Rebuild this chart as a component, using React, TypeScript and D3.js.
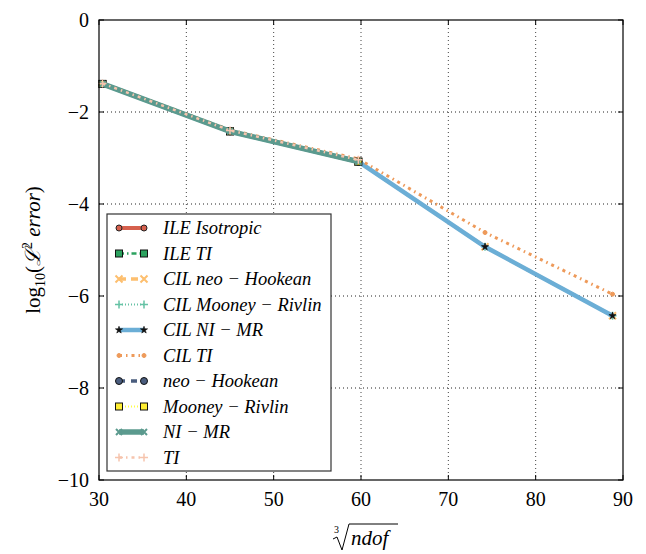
import React from "react";
import * as d3 from "d3";

const xValues = [30.4, 45.0, 59.7, 74.2, 88.8];
const xTicks = [30, 40, 50, 60, 70, 80, 90];
const yTicks = [0, -2, -4, -6, -8, -10];

const seriesNames = [
  "ILE Isotropic",
  "ILE TI",
  "CIL neo − Hookean",
  "CIL Mooney − Rivlin",
  "CIL NI − MR",
  "CIL TI",
  "neo − Hookean",
  "Mooney − Rivlin",
  "NI − MR",
  "TI",
];

const ileIsotropic = [-1.39, -2.42, -3.08];
const ileTI = [-1.39, -2.42, -3.08];
const cilNeoHookean = [-1.39, -2.42, -3.08, -4.93, -6.43];
const cilMooneyRivlin = [-1.39, -2.42, -3.08, -4.93, -6.43];
const cilNIMR = [-1.39, -2.42, -3.08, -4.93, -6.43];
const cilTI = [-1.37, -2.39, -3.02, -4.62, -5.96];
const neoHookean = [-1.39, -2.42, -3.08];
const mooneyRivlin = [-1.39, -2.42, -3.08];
const niMR = [-1.39, -2.42, -3.08];
const ti = [-1.38, -2.40, -3.04];

const seriesValues = [
  ileIsotropic, ileTI, cilNeoHookean, cilMooneyRivlin, cilNIMR,
  cilTI, neoHookean, mooneyRivlin, niMR, ti,
];

type Style = { color: string; width: number; dash: string; marker: string; mfill: string; mstroke: string; msize: number };
const styles: Style[] = [
  { color: "#d6604d", width: 4, dash: "", marker: "circle", mfill: "#d6604d", mstroke: "#222", msize: 6 },
  { color: "#2ca25f", width: 2.5, dash: "5,3,1.5,3", marker: "square", mfill: "#2ca25f", mstroke: "#111", msize: 7 },
  { color: "#fdbf6f", width: 3.5, dash: "7,5", marker: "x", mfill: "none", mstroke: "#fdbf6f", msize: 7 },
  { color: "#66c2a5", width: 2, dash: "1,2", marker: "plus", mfill: "none", mstroke: "#66c2a5", msize: 8 },
  { color: "#6baed6", width: 4.5, dash: "", marker: "star", mfill: "#111", mstroke: "#111", msize: 6 },
  { color: "#ee9a5a", width: 3, dash: "3,4,1.5,4", marker: "circle", mfill: "#ee9a5a", mstroke: "#ee9a5a", msize: 4 },
  { color: "#4a5d7e", width: 3.5, dash: "6,6", marker: "circle", mfill: "#4a5d7e", mstroke: "#111", msize: 7 },
  { color: "#ffff44", width: 2, dash: "1,2", marker: "square", mfill: "#ffee33", mstroke: "#111", msize: 7 },
  { color: "#5b9a8e", width: 5.5, dash: "", marker: "x", mfill: "none", mstroke: "#5b9a8e", msize: 6 },
  { color: "#f6c4ad", width: 2.5, dash: "3,4,1.5,4", marker: "plus", mfill: "none", mstroke: "#f6c4ad", msize: 8 },
];

function Marker({ x, y, s }: { x: number; y: number; s: Style }) {
  const r = s.msize / 2;
  if (s.marker === "circle")
    return <circle cx={x} cy={y} r={r} fill={s.mfill} stroke={s.mstroke} strokeWidth={1} />;
  if (s.marker === "square")
    return <rect x={x - r} y={y - r} width={2 * r} height={2 * r} fill={s.mfill} stroke={s.mstroke} strokeWidth={1} />;
  if (s.marker === "x")
    return <path d={`M${x - r},${y - r}L${x + r},${y + r}M${x - r},${y + r}L${x + r},${y - r}`} stroke={s.mstroke} strokeWidth={2} />;
  if (s.marker === "plus")
    return <path d={`M${x - r},${y}L${x + r},${y}M${x},${y - r}L${x},${y + r}`} stroke={s.mstroke} strokeWidth={1.5} />;
  const star = d3.symbol().type(d3.symbolStar).size(16)();
  return <path d={star || ""} transform={`translate(${x},${y})`} fill={s.mfill} stroke={s.mstroke} strokeWidth={0.6} />;
}

export default function App() {
  const W = 646, H = 554;
  const left = 99, right = 623, top = 20, bottom = 480;
  const x = d3.scaleLinear().domain([30, 90]).range([left, right]);
  const y = d3.scaleLinear().domain([-10, 0]).range([bottom, top]);
  const line = d3.line<[number, number]>().x((d) => x(d[0])).y((d) => y(d[1]));
  const font = "'Liberation Serif', 'DejaVu Serif', serif";

  const legX = 107, legY = 214, legW = 224, legH = 257;
  const rowH = 25.5;

  return (
    <svg width={W} height={H} style={{ position: "absolute", left: 0, top: 0 }} fontFamily={font}>
      <rect x={0} y={0} width={W} height={H} fill="white" />
      {/* grid */}
      {xTicks.slice(1, -1).map((t) => (
        <line key={"gx" + t} x1={x(t)} x2={x(t)} y1={top} y2={bottom} stroke="#444" strokeWidth={1} strokeDasharray="1,3" />
      ))}
      {yTicks.slice(1, -1).map((t) => (
        <line key={"gy" + t} x1={left} x2={right} y1={y(t)} y2={y(t)} stroke="#222" strokeWidth={1} strokeDasharray="1,3" />
      ))}
      {/* series */}
      {seriesValues.map((vals, i) => {
        const pts: [number, number][] = vals.map((v, j) => [xValues[j], v]);
        const s = styles[i];
        return (
          <g key={"s" + i}>
            <path d={line(pts) || ""} fill="none" stroke={s.color} strokeWidth={s.width} strokeDasharray={s.dash || undefined} />
            {pts.map((p, j) => (
              <Marker key={j} x={x(p[0])} y={y(p[1])} s={s} />
            ))}
          </g>
        );
      })}
      {/* frame */}
      <rect x={left} y={top} width={right - left} height={bottom - top} fill="none" stroke="#000" strokeWidth={1.2} />
      {/* ticks */}
      {xTicks.map((t) => (
        <g key={"tx" + t}>
          <line x1={x(t)} x2={x(t)} y1={bottom} y2={bottom - 5} stroke="#000" />
          <line x1={x(t)} x2={x(t)} y1={top} y2={top + 5} stroke="#000" />
          <text x={x(t)} y={bottom + 26} fontSize={20} textAnchor="middle">{t}</text>
        </g>
      ))}
      {yTicks.map((t) => (
        <g key={"ty" + t}>
          <line x1={left} x2={left + 5} y1={y(t)} y2={y(t)} stroke="#000" />
          <line x1={right} x2={right - 5} y1={y(t)} y2={y(t)} stroke="#000" />
          <text x={left - 10} y={y(t) + 7} fontSize={20} textAnchor="end">{t === 0 ? "0" : "\u2212" + Math.abs(t)}</text>
        </g>
      ))}
      {/* legend */}
      <rect x={legX} y={legY} width={legW} height={legH} fill="white" stroke="#333" strokeWidth={1.2} />
      {seriesNames.map((name, i) => {
        const s = styles[i];
        const yy = legY + 14 + i * rowH;
        const x1 = legX + 12, x2 = legX + 37;
        return (
          <g key={"l" + i}>
            <line x1={x1} x2={x2} y1={yy} y2={yy} stroke={s.color} strokeWidth={s.width} strokeDasharray={s.dash || undefined} />
            <Marker x={x1} y={yy} s={s} />
            <Marker x={x2} y={yy} s={s} />
            <text x={legX + 56} y={yy + 6} fontSize={18.5} fontStyle="italic">{name}</text>
          </g>
        );
      })}
      {/* y label */}
      <text transform={`translate(40,${(top + bottom) / 2}) rotate(-90)`} textAnchor="middle" fontSize={21}>
        <tspan>log</tspan>
        <tspan fontSize={14} dy={5}>10</tspan>
        <tspan dy={-5}>(</tspan>
        <tspan fontStyle="italic">{"\u2112"}</tspan>
        <tspan fontSize={14} dy={-8}>2</tspan>
        <tspan dy={8} fontStyle="italic"> error</tspan>
        <tspan>)</tspan>
      </text>
      {/* x label */}
      <g>
        <text x={334} y={533} fontSize={10}>3</text>
        <path d="M333,539 L337,537 L342,550 L349,524 L398,524" fill="none" stroke="#000" strokeWidth={1} />
        <text x={351} y={545} fontSize={21} fontStyle="italic">ndof</text>
      </g>
    </svg>
  );
}
